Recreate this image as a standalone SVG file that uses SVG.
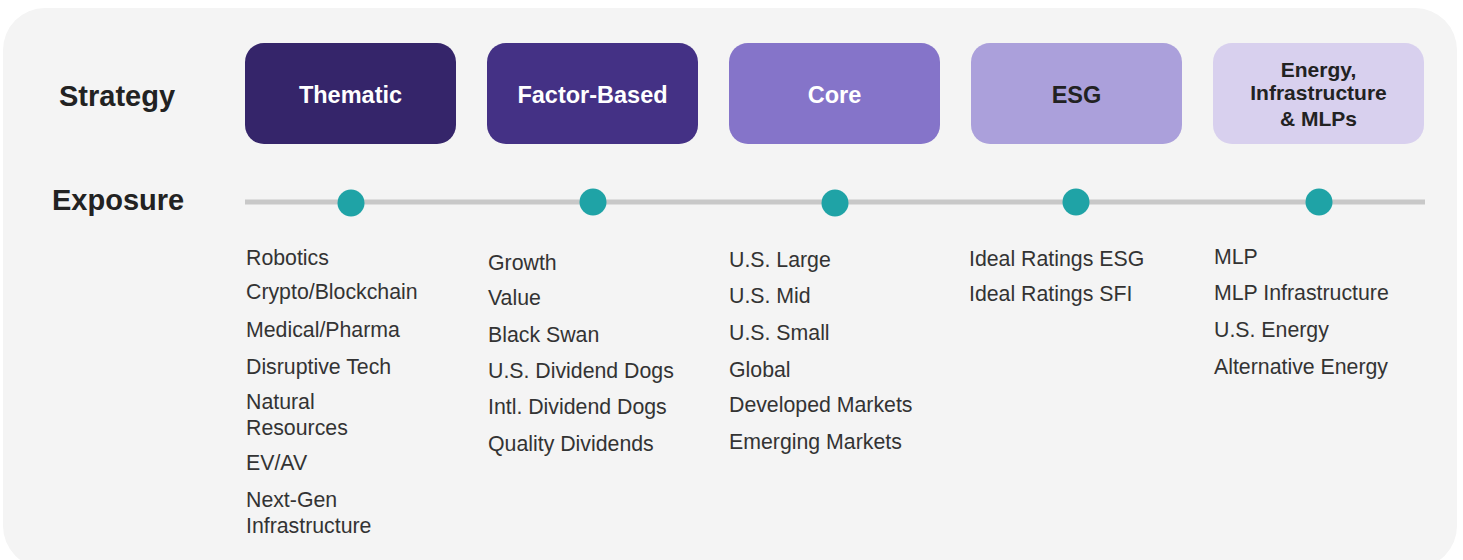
<svg xmlns="http://www.w3.org/2000/svg" width="1463" height="560" viewBox="0 0 1463 560">
<style>
.lbl{font-family:"Liberation Sans",Arial,sans-serif;font-weight:bold;font-size:29px;fill:#222222}
.bt{font-family:"Liberation Sans",Arial,sans-serif;font-weight:bold;font-size:23.5px;text-anchor:middle}
.bt2{font-family:"Liberation Sans",Arial,sans-serif;font-weight:bold;font-size:21px;text-anchor:middle;fill:#222222}
.it{font-family:"Liberation Sans",Arial,sans-serif;font-size:21.3px;fill:#333333}
.dot{fill:#1FA3A6}
</style>
<rect x="3" y="8" width="1454" height="560" rx="42" ry="42" fill="#F4F4F4"/>
<text class="lbl" x="59" y="106">Strategy</text>
<text class="lbl" x="52" y="210">Exposure</text>
<g id="connectors">
<rect x="245" y="199.5" width="1180" height="5" fill="#C8C8C8"/>
</g>
<g id="thematic">
<rect x="245" y="43" width="211" height="101" rx="19" fill="#35256A"/>
<text class="bt" x="350.5" y="103" fill="#FFFFFF">Thematic</text>
<circle class="dot" cx="351" cy="203" r="13.5"/>
<text class="it" x="246" y="265">Robotics</text>
<text class="it" x="246" y="299">Crypto/Blockchain</text>
<text class="it" x="246" y="337">Medical/Pharma</text>
<text class="it" x="246" y="374">Disruptive Tech</text>
<text class="it" x="246" y="409">Natural</text>
<text class="it" x="246" y="435">Resources</text>
<text class="it" x="246" y="470">EV/AV</text>
<text class="it" x="246" y="507">Next-Gen</text>
<text class="it" x="246" y="533">Infrastructure</text>
</g>
<g id="factor">
<rect x="487" y="43" width="211" height="101" rx="19" fill="#443185"/>
<text class="bt" x="592.5" y="103" fill="#FFFFFF">Factor-Based</text>
<circle class="dot" cx="593" cy="202" r="13.5"/>
<text class="it" x="488" y="270">Growth</text>
<text class="it" x="488" y="305">Value</text>
<text class="it" x="488" y="342">Black Swan</text>
<text class="it" x="488" y="378">U.S. Dividend Dogs</text>
<text class="it" x="488" y="414">Intl. Dividend Dogs</text>
<text class="it" x="488" y="451">Quality Dividends</text>
</g>
<g id="core">
<rect x="729" y="43" width="211" height="101" rx="19" fill="#8574C9"/>
<text class="bt" x="834.5" y="103" fill="#FFFFFF">Core</text>
<circle class="dot" cx="835" cy="203" r="13.5"/>
<text class="it" x="729" y="267">U.S. Large</text>
<text class="it" x="729" y="303">U.S. Mid</text>
<text class="it" x="729" y="340">U.S. Small</text>
<text class="it" x="729" y="377">Global</text>
<text class="it" x="729" y="412">Developed Markets</text>
<text class="it" x="729" y="449">Emerging Markets</text>
</g>
<g id="esg">
<rect x="971" y="43" width="211" height="101" rx="19" fill="#ABA0DB"/>
<text class="bt" x="1076.5" y="103" fill="#222222">ESG</text>
<circle class="dot" cx="1076" cy="202" r="13.5"/>
<text class="it" x="969" y="266">Ideal Ratings ESG</text>
<text class="it" x="969" y="301">Ideal Ratings SFI</text>
</g>
<g id="energy">
<rect x="1213" y="43" width="211" height="101" rx="19" fill="#D8D0EE"/>
<text class="bt2" x="1318.5" y="77">Energy,</text>
<text class="bt2" x="1318.5" y="100">Infrastructure</text>
<text class="bt2" x="1318.5" y="126">&amp; MLPs</text>
<circle class="dot" cx="1319" cy="202" r="13.5"/>
<text class="it" x="1214" y="264">MLP</text>
<text class="it" x="1214" y="300">MLP Infrastructure</text>
<text class="it" x="1214" y="337">U.S. Energy</text>
<text class="it" x="1214" y="374">Alternative Energy</text>
</g>
</svg>
